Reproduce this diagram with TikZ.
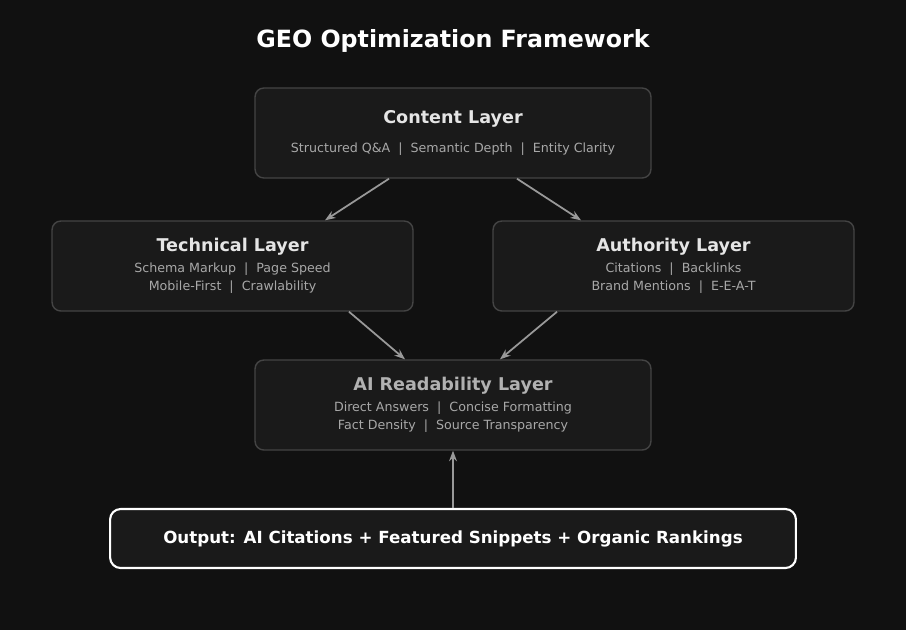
\documentclass[tikz,border=0pt]{standalone}
\usepackage{fontspec}
\setmainfont{DejaVu Sans}
\usetikzlibrary{arrows.meta}
\definecolor{bgdark}{HTML}{111111}
\definecolor{boxfill}{HTML}{1A1A1A}
\definecolor{boxline}{HTML}{444444}
\definecolor{subtext}{HTML}{A8A8A8}
\tikzstyle{layer} = [rectangle, rounded corners=5pt, minimum width=7.92cm, minimum height=1.8cm, draw=boxline, line width=0.8pt, fill=boxfill, align=center]
\tikzstyle{sidelayer} = [layer, minimum width=7.22cm]
\tikzstyle{output} = [rectangle, rounded corners=6pt, minimum width=13.72cm, minimum height=1.18cm, draw=white, line width=1.2pt, fill=boxfill, text=white, font=\fontsize{9.5}{11}\selectfont\bfseries]
\tikzstyle{arrow} = [draw=gray!80, line width=1pt, -{Stealth[length=6pt]}]
\newcommand{\headtxt}[1]{{\fontsize{10}{12}\selectfont\bfseries\color{white!90!black}#1}}
\newcommand{\subtxt}[1]{{\fontsize{7.2}{10}\selectfont\color{subtext}#1}}
\begin{document}
\begin{tikzpicture}[x=0.02cm, y=-0.02cm]
\fill[bgdark] (0,0) rectangle (906,630);
\useasboundingbox (0,0) rectangle (906,630);

\node (title) at (453,41) {\fontsize{13.5}{16}\selectfont\bfseries\color{white}GEO Optimization Framework};

\node (content)[layer] at (453,133) {\headtxt{Content Layer}\\[4pt]\subtxt{Structured Q\&A~~|~~Semantic Depth~~|~~Entity Clarity}};
\node (technical)[sidelayer] at (232.5,266) {\headtxt{Technical Layer}\\\subtxt{Schema Markup~~|~~Page Speed}\\[-2pt]\subtxt{Mobile-First~~|~~Crawlability}};
\node (authority)[sidelayer] at (673.5,266) {\headtxt{Authority Layer}\\\subtxt{Citations~~|~~Backlinks}\\[-2pt]\subtxt{Brand Mentions~~|~~E-E-A-T}};
\node (readability)[layer] at (453,405) {{\fontsize{10}{12}\selectfont\bfseries\color{subtext!90!white}AI Readability Layer}\\\subtxt{Direct Answers~~|~~Concise Formatting}\\[-2pt]\subtxt{Fact Density~~|~~Source Transparency}};
\node (result)[output] at (453,538.5) {Output: AI Citations + Featured Snippets + Organic Rankings};

\draw[arrow] ([xshift=-1.28cm]content.south) -- ([xshift=1.85cm]technical.north);
\draw[arrow] ([xshift=1.28cm]content.south) -- ([xshift=-1.85cm]authority.north);
\draw[arrow] ([xshift=2.33cm]technical.south) -- ([xshift=-0.96cm]readability.north);
\draw[arrow] ([xshift=-2.33cm]authority.south) -- ([xshift=0.94cm]readability.north);
\draw[arrow] (result) -- (readability);

\end{tikzpicture}
\end{document}
